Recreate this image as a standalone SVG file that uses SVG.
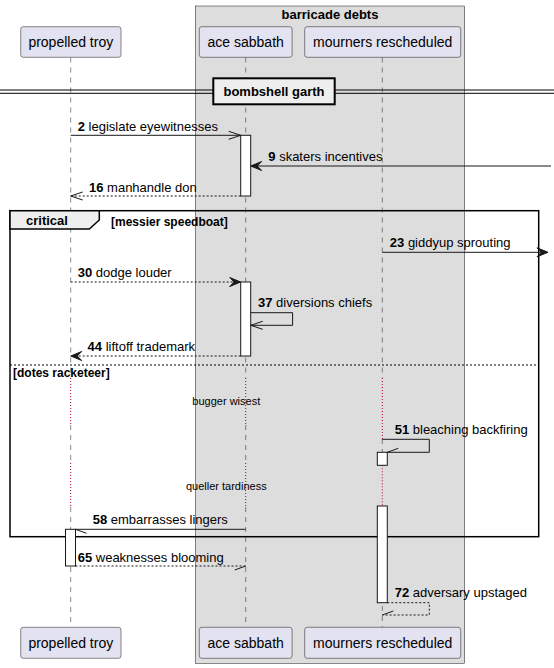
<svg xmlns="http://www.w3.org/2000/svg" width="554" height="668" viewBox="0 0 554 668">
<style>
text{font-family:"Liberation Sans",Arial,sans-serif;fill:#000}
.pt{font-size:14px}
.msg{font-size:13px}
.b{font-weight:bold}
.part{fill:#E2E2F0;stroke:#181818;stroke-width:0.5}
.life{stroke:#181818;stroke-width:0.5;stroke-dasharray:5,5;fill:none}
.delay{stroke:#A80036;stroke-width:1;stroke-dasharray:1,2;fill:none}
.act{fill:#FFFFFF;stroke:#181818;stroke-width:1}
.ln{stroke:#181818;stroke-width:1;fill:none}
.dash{stroke:#181818;stroke-width:1;fill:none;stroke-dasharray:2,2}
.head{fill:#181818;stroke:#181818;stroke-width:1}
.dtxt{font-size:11px}
</style>
<g id="box-barricade-debts">
<rect x="195.3" y="6" width="269.4" height="657.3" fill="#DDDDDD" stroke="#181818" stroke-width="0.5"/>
<text class="msg b" x="330" y="18.5" text-anchor="middle">barricade debts</text>
</g>
<g id="lifelines">
<path class="life" d="M70.7,57.5V378M70.7,425V463M70.7,507V627.3"/>
<path class="delay" d="M70.7,378V425M70.7,463V507"/>
<path class="life" d="M245.7,57.5V378M245.7,425V463M245.7,507V627.3"/>
<path class="delay" d="M245.7,378V425M245.7,463V507"/>
<path class="life" d="M382.3,57.5V378M382.3,439V452M382.3,506V627.3"/>
<path class="delay" d="M382.3,378V439M382.3,465.3V506"/>
</g>
<g id="participant-propelled-troy">
<rect class="part" x="20.7" y="26.7" width="100.3" height="30.6" rx="2.5"/>
<text class="pt" x="70.8" y="47.2" text-anchor="middle">propelled troy</text>
<rect class="part" x="20.7" y="627.3" width="100.3" height="31" rx="2.5"/>
<text class="pt" x="70.8" y="648" text-anchor="middle">propelled troy</text>
</g>
<g id="participant-ace-sabbath">
<rect class="part" x="199.3" y="26.7" width="92.8" height="30.6" rx="2.5"/>
<text class="pt" x="245.7" y="47.2" text-anchor="middle">ace sabbath</text>
<rect class="part" x="199.3" y="627.3" width="92.8" height="31" rx="2.5"/>
<text class="pt" x="245.7" y="648" text-anchor="middle">ace sabbath</text>
</g>
<g id="participant-mourners-rescheduled">
<rect class="part" x="304.7" y="26.7" width="156" height="30.6" rx="2.5"/>
<text class="pt" x="382.7" y="47.2" text-anchor="middle">mourners rescheduled</text>
<rect class="part" x="304.7" y="627.3" width="156" height="31" rx="2.5"/>
<text class="pt" x="382.7" y="648" text-anchor="middle">mourners rescheduled</text>
</g>
<g id="divider-bombshell-garth">
<line x1="0" y1="90" x2="554" y2="90" stroke="#000" stroke-width="1"/>
<line x1="0" y1="93.3" x2="554" y2="93.3" stroke="#000" stroke-width="1"/>
<rect x="213.3" y="78.3" width="121.4" height="26" fill="#EEEEEE" stroke="#000" stroke-width="2"/>
<text class="msg b" x="274" y="96" text-anchor="middle">bombshell garth</text>
</g>
<g id="frame-critical">
<rect x="10" y="210.7" width="528.7" height="326" fill="none" stroke="#000" stroke-width="1.5"/>
<path d="M10,210.7H99.3V220L89.3,229H10Z" fill="#EEEEEE" stroke="#000" stroke-width="1.5"/>
<text class="msg b" x="26" y="225">critical</text>
<text class="b" style="font-size:12px" x="111" y="225.5">[messier speedboat]</text>
<line x1="10" y1="365" x2="538.7" y2="365" stroke="#000" stroke-width="1" stroke-dasharray="2,2"/>
<text class="b" style="font-size:12px" x="13" y="377.3">[dotes racketeer]</text>
</g>
<g id="delays">
<text class="dtxt" x="226.3" y="404.5" text-anchor="middle">bugger wisest</text>
<text class="dtxt" x="226.3" y="490.2" text-anchor="middle">queller tardiness</text>
</g>
<g id="activations">
<rect class="act" x="240.7" y="135.3" width="10" height="60.7"/>
<rect class="act" x="240.7" y="282" width="10" height="74"/>
<rect class="act" x="377.3" y="452.3" width="10" height="13"/>
<rect class="act" x="377.3" y="506" width="10" height="96.7"/>
<rect class="act" x="65.5" y="529.3" width="10" height="36.7"/>
</g>
<g id="connectors">
<!-- 2 -->
<line class="ln" x1="70.7" y1="135.3" x2="240.7" y2="135.3"/>
<path class="ln" d="M228.7,131.3L240.7,135.3L228.7,139.3"/>
<text class="msg" x="77.7" y="130.7"><tspan class="b">2</tspan> legislate eyewitnesses</text>
<!-- 9 -->
<line class="ln" x1="551" y1="166" x2="251.5" y2="166"/>
<polygon class="head" points="250.7,166 261.7,161.5 257.2,166 261.7,170.5"/>
<text class="msg" x="268.3" y="161"><tspan class="b">9</tspan> skaters incentives</text>
<!-- 16 -->
<line class="dash" x1="240.7" y1="196" x2="70.7" y2="196"/>
<path class="ln" d="M82.7,192L70.7,196L82.7,200"/>
<text class="msg" x="89" y="192"><tspan class="b">16</tspan> manhandle don</text>
<!-- 23 -->
<line class="ln" x1="382.3" y1="252.3" x2="547" y2="252.3"/>
<polygon class="head" points="548,252.3 537,247.8 541.5,252.3 537,256.8"/>
<text class="msg" x="389.8" y="246.7"><tspan class="b">23</tspan> giddyup sprouting</text>
<!-- 30 -->
<line class="dash" x1="70.7" y1="282" x2="239.7" y2="282"/>
<polygon class="head" points="240.7,282 229.7,277.5 234.2,282 229.7,286.5"/>
<text class="msg" x="77.7" y="277.3"><tspan class="b">30</tspan> dodge louder</text>
<!-- 37 -->
<path class="ln" d="M250.7,312.7H292.6V325.3H250.7"/>
<path class="ln" d="M262.7,321.3L250.7,325.3L262.7,329.3"/>
<text class="msg" x="258" y="307.3"><tspan class="b">37</tspan> diversions chiefs</text>
<!-- 44 -->
<line class="dash" x1="240.7" y1="356" x2="71.7" y2="356"/>
<polygon class="head" points="70.7,356 81.7,351.5 77.2,356 81.7,360.5"/>
<text class="msg" x="87.6" y="350.5"><tspan class="b">44</tspan> liftoff trademark</text>
<!-- 51 -->
<path class="ln" d="M382.3,439.3H429.3V452.3H387.3"/>
<line class="ln" x1="387.3" y1="452.3" x2="398.3" y2="448.3"/>
<text class="msg" x="394.7" y="434"><tspan class="b">51</tspan> bleaching backfiring</text>
<!-- 58 -->
<line class="ln" x1="245.7" y1="529.3" x2="75.5" y2="529.3"/>
<line class="ln" x1="75.5" y1="529.3" x2="86.5" y2="533.3"/>
<text class="msg" x="92.7" y="523.5"><tspan class="b">58</tspan> embarrasses lingers</text>
<!-- 65 -->
<line class="dash" x1="75.5" y1="566" x2="245.7" y2="566"/>
<line class="ln" x1="245.7" y1="566" x2="234.7" y2="570"/>
<text class="msg" x="77.7" y="561.5"><tspan class="b">65</tspan> weaknesses blooming</text>
<!-- 72 -->
<path class="dash" d="M387.3,602.7H429.3V615H382.3"/>
<line class="ln" x1="382.3" y1="615" x2="393.3" y2="611"/>
<text class="msg" x="394.7" y="596.5"><tspan class="b">72</tspan> adversary upstaged</text>
</g>
</svg>
